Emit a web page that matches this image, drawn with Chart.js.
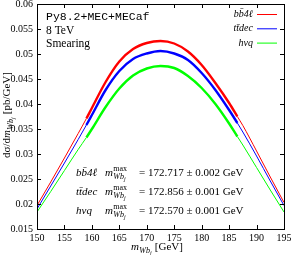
<!DOCTYPE html>
<html>
<head>
<meta charset="utf-8">
<script src="https://cdn.jsdelivr.net/npm/chart.js@4.4.1/dist/chart.umd.min.js"></script>
<style>
  html, body { margin: 0; padding: 0; background: #fff; }
  #wrap { width: 291px; height: 255px; }
</style>
</head>
<body>
<div id="wrap"><canvas id="chart"></canvas></div>
<script>
// --- données ---
const massGeV = [150, 152.5, 155, 157.5, 159, 160, 162.5, 165, 167.5, 170, 172.5, 175, 177.5, 180, 182.5, 185, 186.5, 187.5, 190, 192.5, 195];
const bb4lValues = [0.0197, 0.0244, 0.0292, 0.0341, 0.0371, 0.0392, 0.0444, 0.0485, 0.0510, 0.0522, 0.0526, 0.0521, 0.0505, 0.0478, 0.0442, 0.0402, 0.0375, 0.0357, 0.0306, 0.0254, 0.0203];
const ttdecValues = [0.0190, 0.0236, 0.0282, 0.0329, 0.0358, 0.0378, 0.0428, 0.0466, 0.0490, 0.0501, 0.0506, 0.0501, 0.0488, 0.0462, 0.0428, 0.0388, 0.0362, 0.0344, 0.0296, 0.0246, 0.0197];
const hvqValues = [0.0184, 0.0225, 0.0267, 0.0309, 0.0333, 0.0350, 0.0394, 0.0431, 0.0457, 0.0471, 0.0476, 0.0472, 0.0456, 0.0432, 0.0400, 0.0361, 0.0335, 0.0318, 0.0273, 0.0228, 0.0184];
const fitRange = [159, 186.5];

const seriesNames = ["bb̄4ℓ", "tt̄dec", "hvq"];
const seriesColors = ["#ff0000", "#0000ff", "#00ff00"];
const peakMass = ["172.717", "172.856", "172.570"];
const peakErr = ["0.002", "0.001", "0.001"];
const infoLines = ["Py8.2+MEC+MECaf", "8 TeV", "Smearing"];

const xMin = 150, xMax = 195, xStep = 5;
const yMin = 0.015, yMax = 0.06, yStep = 0.005;

const SERIF = '"Liberation Serif", "DejaVu Serif", serif';
const MONO = '"Liberation Mono", "DejaVu Sans Mono", monospace';

// --- une courbe par série : fine hors de la zone d'ajustement, épaisse dedans ---
const allSeries = [bb4lValues, ttdecValues, hvqValues];
const datasets = allSeries.map((vals, i) => ({
    data: massGeV.map((m, k) => ({ x: m, y: vals[k] })),
    borderColor: seriesColors[i],
    borderWidth: 1,
    pointRadius: 0,
    cubicInterpolationMode: 'monotone',
    order: i,
    segment: {
        borderWidth: c => (c.p0.parsed.x >= fitRange[0] && c.p1.parsed.x <= fitRange[1]) ? 2.4 : 1
    }
}));

function txt(ctx, s, x, y, font, align) {
    ctx.font = font;
    ctx.textAlign = align || 'left';
    ctx.fillText(s, x, y);
    return ctx.measureText(s).width;
}

// m^max_{Wb_j}
function mWbj(ctx, x, y, size, withMax) {
    let w = txt(ctx, "m", x, y, `italic ${size}px ${SERIF}`);
    const sx = x + w + 0.3;
    const sub = Math.round(size * 0.7);
    if (withMax) txt(ctx, "max", sx, y - size * 0.42, `${sub}px ${SERIF}`);
    let w2 = txt(ctx, "Wb", sx, y + size * 0.28, `italic ${sub}px ${SERIF}`);
    let w3 = txt(ctx, "j", sx + w2 + 0.2, y + size * 0.45, `italic ${Math.round(size * 0.55)}px ${SERIF}`);
    return sx + w2 + w3 + 0.5;
}

const framePlugin = {
    id: 'frame',
    afterDraw(chart) {
        const { ctx, chartArea: a, scales } = chart;
        const xs = scales.x, ys = scales.y;
        ctx.save();
        ctx.strokeStyle = '#000';
        ctx.lineWidth = 1;
        ctx.strokeRect(Math.round(a.left) + 0.5, Math.round(a.top) + 0.5,
                       Math.round(a.right - a.left), Math.round(a.bottom - a.top));
        // tics vers l'intérieur, sur les 4 côtés
        ctx.beginPath();
        for (let v = xMin; v <= xMax + 1e-9; v += xStep) {
            const px = Math.round(xs.getPixelForValue(v)) + 0.5;
            ctx.moveTo(px, a.bottom); ctx.lineTo(px, a.bottom - 4);
            ctx.moveTo(px, a.top); ctx.lineTo(px, a.top + 4);
        }
        for (let k = 0; k <= Math.round((yMax - yMin) / yStep); k++) {
            const py = Math.round(ys.getPixelForValue(yMin + k * yStep)) + 0.5;
            ctx.moveTo(a.left, py); ctx.lineTo(a.left + 4, py);
            ctx.moveTo(a.right, py); ctx.lineTo(a.right - 4, py);
        }
        ctx.stroke();

        ctx.fillStyle = '#000';
        ctx.textBaseline = 'alphabetic';
        // texte en haut à gauche
        txt(ctx, infoLines[0], a.left + 9, a.top + 16, `11.5px ${MONO}`);
        txt(ctx, infoLines[1], a.left + 9, a.top + 30, `11.5px ${SERIF}`);
        txt(ctx, infoLines[2], a.left + 9, a.top + 43, `11.5px ${SERIF}`);

        // légende
        seriesNames.forEach((n, i) => {
            const y = a.top + 13 + i * 14.3;
            txt(ctx, n, a.right - 31, y, `italic 10px ${SERIF}`, 'right');
            ctx.strokeStyle = seriesColors[i];
            ctx.lineWidth = 1;
            ctx.beginPath();
            ctx.moveTo(a.right - 27, y - 2.5); ctx.lineTo(a.right - 7, y - 2.5);
            ctx.stroke();
        });

        // bloc des masses
        seriesNames.forEach((n, i) => {
            const y = a.top + 172 + i * 19;
            txt(ctx, n, a.left + 39, y, `italic 11px ${SERIF}`);
            mWbj(ctx, a.left + 68, y, 11, true);
            txt(ctx, `= ${peakMass[i]} ± ${peakErr[i]} GeV`, a.left + 102, y, `11px ${SERIF}`);
        });

        // titre axe x
        const xe = mWbj(ctx, 131, 250, 11, false);
        txt(ctx, " [GeV]", xe, 250, `11px ${SERIF}`);

        // titre axe y (tourné)
        ctx.translate(10, 158);
        ctx.rotate(-Math.PI / 2);
        let w = txt(ctx, "dσ/d", 0, 0, `11px ${SERIF}`);
        w = mWbj(ctx, w, 0, 11, false);
        txt(ctx, " [pb/GeV]", w, 0, `11px ${SERIF}`);
        ctx.restore();
    }
};

new Chart(document.getElementById('chart'), {
    type: 'line',
    data: { datasets },
    options: {
        responsive: true,
        maintainAspectRatio: false,
        animation: false,
        layout: { padding: { left: 0, top: 4, right: 7, bottom: 0 } },
        plugins: { legend: { display: false }, tooltip: { enabled: false } },
        scales: {
            x: {
                type: 'linear', min: xMin, max: xMax,
                grid: { display: false, drawTicks: false },
                border: { display: false },
                ticks: { stepSize: xStep, padding: 3, color: '#000', maxRotation: 0,
                         font: { family: SERIF, size: 10 } },
                afterFit: s => { s.height = 26; s.paddingLeft = 0; s.paddingRight = 0; }
            },
            y: {
                min: yMin, max: yMax,
                grid: { display: false, drawTicks: false },
                border: { display: false },
                ticks: { stepSize: yStep, padding: 4, color: '#000',
                         font: { family: SERIF, size: 10 },
                         callback: v => String(+v.toFixed(3)) },
                afterFit: s => { s.width = 37; s.paddingTop = 0; s.paddingBottom = 0; }
            }
        }
    },
    plugins: [framePlugin]
});
</script>
</body>
</html>
